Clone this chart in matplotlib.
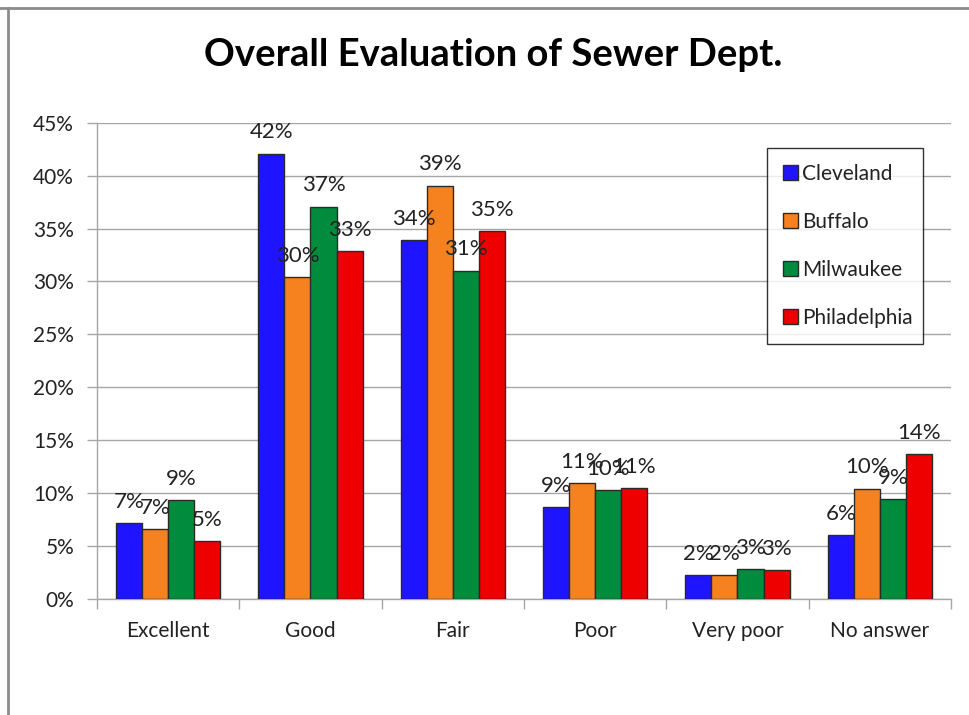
import matplotlib
matplotlib.use("Agg")
import matplotlib.pyplot as plt
from matplotlib.lines import Line2D
import numpy as np

# Survey data: share of respondents per rating, by city
categories = ["Excellent", "Good", "Fair", "Poor", "Very poor", "No answer"]
cities = ["Cleveland", "Buffalo", "Milwaukee", "Philadelphia"]
cleveland = [7.15, 42.09, 33.9, 8.67, 2.30, 6.02]
buffalo = [6.64, 30.45, 39.06, 10.96, 2.30, 10.43]
milwaukee = [9.36, 37.08, 31.03, 10.33, 2.84, 9.42]
philadelphia = [5.48, 32.86, 34.75, 10.52, 2.71, 13.70]
y_ticks = [0, 5, 10, 15, 20, 25, 30, 35, 40, 45]

series = [cleveland, buffalo, milwaukee, philadelphia]
colors = ["#1E14FF", "#F5821F", "#008C3C", "#EE0000"]

plt.rcParams["font.family"] = ["Lato", "DejaVu Sans"]

W, H = 969, 715
fig = plt.figure(figsize=(W / 100, H / 100), dpi=100)
fig.patch.set_facecolor("white")

ax = fig.add_axes([97 / W, 1 - 599 / H, (951 - 97) / W, (599 - 122.7) / H])

x = np.arange(len(categories))
bw = 0.183
offsets = (np.arange(len(cities)) - 1.5) * bw

for vals, name, col, off in zip(series, cities, colors, offsets):
    bars = ax.bar(x + off, vals, width=bw, color=col, edgecolor="#2a2a2a",
                  linewidth=1.0, label=name, zorder=3)
    for b, v in zip(bars, vals):
        ax.annotate(f"{v:.0f}%", (b.get_x() + b.get_width() / 2, v),
                    xytext=(0, 8), textcoords="offset points",
                    ha="center", va="bottom", fontsize=16, color="#222222",
                    zorder=5)

ax.set_xlim(-0.5, len(categories) - 0.5)
ax.set_ylim(0, 45)
ax.set_yticks(y_ticks)
ax.set_yticklabels([f"{t}%" for t in y_ticks], fontsize=15, color="#222222")
ax.yaxis.grid(True, color="#A6A6A6", linewidth=1.0, zorder=0)
ax.set_axisbelow(True)

ax.set_xticks(x)
ax.set_xticklabels(categories, fontsize=15, color="#222222")
ax.tick_params(axis="x", length=0, pad=16)
ax.set_xticks(np.arange(-0.5, len(categories)), minor=True)
ax.tick_params(axis="x", which="minor", length=7, color="#A6A6A6", width=1)
ax.tick_params(axis="y", length=7, color="#A6A6A6", width=1, pad=9.5)

for side in ["top", "right"]:
    ax.spines[side].set_visible(False)
for side in ["left", "bottom"]:
    ax.spines[side].set_color("#A6A6A6")
    ax.spines[side].set_linewidth(1.0)

leg = ax.legend(loc="upper left",
                bbox_to_anchor=(767 / W, 1 - 339 / H, 156 / W, 191 / H),
                bbox_transform=fig.transFigure, borderaxespad=0, mode="expand",
                fontsize=15, frameon=True, fancybox=False,
                handlelength=0.75, handleheight=0.75, handletextpad=0.2,
                labelspacing=1.35, borderpad=0.75)
leg.get_frame().set_edgecolor("#000000")
leg.get_frame().set_linewidth(1.0)
for t in leg.get_texts():
    t.set_color("#222222")

fig.text(493 / W, 1 - 55 / H, "Overall Evaluation of Sewer Dept.",
         ha="center", va="center", fontsize=27.5, fontweight="bold", color="black")

# chart frame edges along the top and left
fig.add_artist(Line2D([0, 1], [1 - 7.5 / H, 1 - 7.5 / H], transform=fig.transFigure,
                      color="#8C8C8C", linewidth=2))
fig.add_artist(Line2D([7.5 / W, 7.5 / W], [0, 1 - 7.5 / H], transform=fig.transFigure,
                      color="#8C8C8C", linewidth=2))

fig.savefig("out.png", dpi=100, facecolor="white")
